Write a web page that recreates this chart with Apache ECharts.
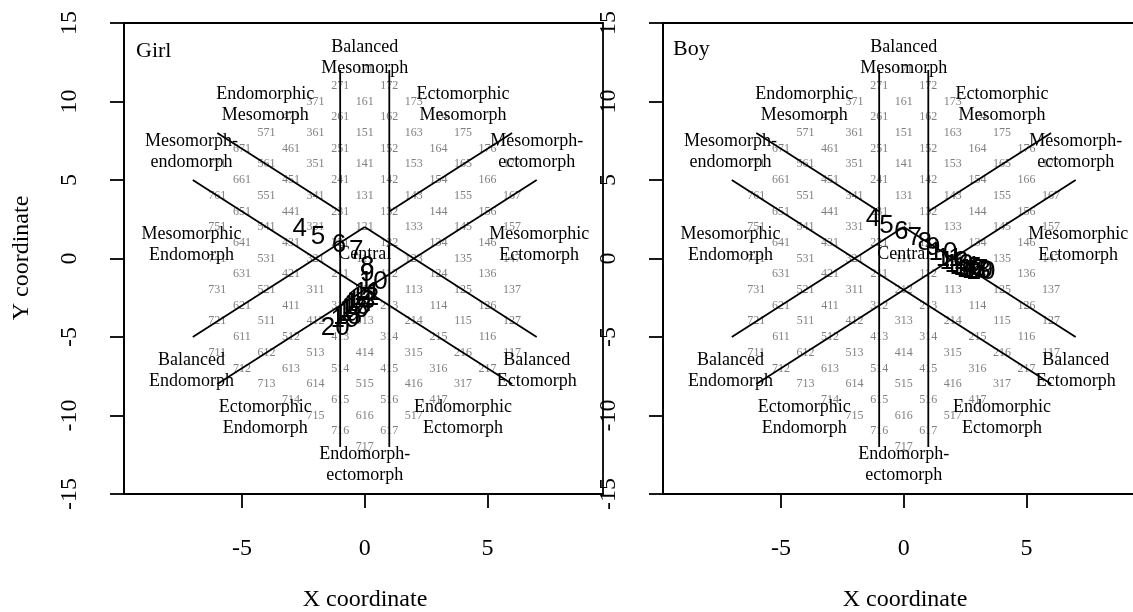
<!DOCTYPE html>
<html>
<head>
<meta charset="utf-8">
<script src="https://cdn.jsdelivr.net/npm/echarts@6/dist/echarts.min.js"></script>
<style>
html,body{margin:0;padding:0;background:#fff;overflow:hidden;}
#chart{width:1150px;height:612px;}
</style>
</head>
<body>
<div id="chart"></div>
<script>
// ---------- data ----------
const panelNames = ['Girl', 'Boy'];
const xTicks = [-5, 0, 5];
const yTicks = [-15, -10, -5, 0, 5, 10, 15];

// somatotype codes printed on the somatochart grid (endo, meso, ecto)
const somatoCodes = [
  '111','112','113','114','115','116','117',
  '121','122','123','124','125','126','127',
  '131','132','133','134','135','136','137',
  '141','142','143','144','145','146','147',
  '151','152','153','154','155','156','157',
  '161','162','163','164','165','166','167',
  '171','172','173','174','175','176','177',
  '211','212','213','214','215','216','217','221','231','241','251','261','271',
  '311','312','313','314','315','316','317','321','331','341','351','361','371',
  '411','412','413','414','415','416','417','421','431','441','451','461','471',
  '511','512','513','514','515','516','517','521','531','541','551','561','571',
  '611','612','613','614','615','616','617','621','631','641','651','661','671',
  '711','712','713','714','715','716','717','721','731','741','751','761','771'
];

// category names and their chart coordinates
const regionNames = [
  'Balanced\nMesomorph', 'Endomorphic\nMesomorph', 'Ectomorphic\nMesomorph',
  'Mesomorph-\nendomorph', 'Mesomorph-\nectomorph',
  'Mesomorphic\nEndomorph', 'Mesomorphic\nEctomorph', 'Central',
  'Balanced\nEndomorph', 'Balanced\nEctomorph',
  'Ectomorphic\nEndomorph', 'Endomorphic\nEctomorph', 'Endomorph-\nectomorph'
];
const regionX = [0, -4.05, 4.0, -7.05, 7.0, -7.05, 7.1, 0, -7.05, 7.0, -4.05, 4.0, 0];
const regionY = [12.8, 9.8, 9.8, 6.8, 6.8, 0.85, 0.85, 0.25, -7.15, -7.15, -10.15, -10.15, -13.15];

// boundary segments of the somatochart [x1, y1, x2, y2]
const boundarySegments = [
  [-1, -12, -1, 12],
  [1, -12, 1, 12],
  [-6, 8, -1, 3],
  [0, 2, 7, -5],
  [-7, -5, 0, 2],
  [1, 3, 6, 8],
  [-7, 5, 6, -8],
  [-6, -8, 7, 5]
];

// age labels and somatochart coordinates per panel
const ages = ['4','5','6','7','8','9','10','11','12','13','14','15','16','17','18','19','20'];
const girlX = [-2.65, -1.9, -1.05, -0.35, 0.1, 0.1, 0.35, 0.1, 0.0, -0.15, -0.25, -0.35, -0.45, -0.55, -0.7, -0.8, -1.2];
const girlY = [1.9, 1.35, 0.85, 0.5, -0.5, -1.0, -1.5, -2.2, -2.5, -2.7, -2.9, -3.1, -3.3, -3.5, -3.7, -3.9, -4.4];
const boyX = [-1.25, -0.7, -0.1, 0.45, 0.85, 1.2, 1.6, 1.85, 2.05, 2.25, 2.45, 2.6, 2.75, 2.85, 2.95, 3.05, 3.15];
const boyY = [2.5, 2.1, 1.7, 1.3, 1.0, 0.7, 0.35, 0.0, -0.2, -0.4, -0.5, -0.6, -0.7, -0.75, -0.8, -0.8, -0.85];

// ---------- chart ----------
const SERIF = 'Liberation Serif, Times New Roman, serif';
const SANS = 'Liberation Sans, Arial, sans-serif';
const chart = echarts.init(document.getElementById('chart'), null, {renderer: 'canvas'});

const grids = [
  {left: 124, top: 23, width: 479, height: 471},
  {left: 663, top: 23, width: 479, height: 471}
];

const xAxes = [], yAxes = [], series = [];
const ageData = [[girlX, girlY], [boyX, boyY]];
const hidden = {color: 'rgba(0,0,0,0)', opacity: 1};

for (let p = 0; p < 2; p++) {
  xAxes.push({
    type: 'value', gridIndex: p, min: -9.8, max: 9.7,
    axisLine: {show: true, onZero: false, lineStyle: {color: '#000', width: 1.8}},
    axisTick: {show: true, customValues: xTicks, length: 14, lineStyle: {color: '#000', width: 1.8}},
    axisLabel: {show: true, customValues: xTicks, margin: 43, fontSize: 24, fontFamily: SERIF, color: '#000',
      formatter: v => String(v)},
    splitLine: {show: false}
  });
  yAxes.push({
    type: 'value', gridIndex: p, min: -15, max: 15, interval: 5,
    axisLine: {show: true, onZero: false, lineStyle: {color: '#000', width: 1.8}},
    axisTick: {show: true, length: 14, lineStyle: {color: '#000', width: 1.8}},
    axisLabel: {show: true, rotate: 90, margin: 42, fontSize: 24, fontFamily: SERIF, color: '#000',
      formatter: v => String(v)},
    splitLine: {show: false}
  });

  // grey somatotype codes
  series.push({
    type: 'scatter', xAxisIndex: p, yAxisIndex: p, z: 1, silent: true,
    symbolSize: 1, itemStyle: hidden,
    data: somatoCodes.map(c => {
      const i = +c[0], j = +c[1], k = +c[2];
      return {name: c, value: [k - i, 2 * j - i - k]};
    }),
    label: {show: true, position: 'inside', formatter: '{b}', fontSize: 12, fontFamily: SERIF, color: '#808080'},
    labelLayout: {hideOverlap: false}
  });

  // boundary lines
  boundarySegments.forEach(s => {
    series.push({
      type: 'line', xAxisIndex: p, yAxisIndex: p, z: 2, silent: true,
      symbol: 'none', data: [[s[0], s[1]], [s[2], s[3]]],
      lineStyle: {color: '#000', width: 1.8}
    });
  });

  // category names
  series.push({
    type: 'scatter', xAxisIndex: p, yAxisIndex: p, z: 3, silent: true,
    symbolSize: 1, itemStyle: hidden,
    data: regionNames.map((n, i) => ({name: n, value: [regionX[i], regionY[i]]})),
    label: {show: true, position: 'inside', formatter: '{b}', fontSize: 18, lineHeight: 21,
      fontFamily: SERIF, color: '#000', align: 'center', verticalAlign: 'middle'}
  });

  // age numbers
  const ax = ageData[p][0], ay = ageData[p][1];
  series.push({
    type: 'scatter', xAxisIndex: p, yAxisIndex: p, z: 4, silent: true,
    symbolSize: 1, itemStyle: hidden,
    data: ages.map((a, i) => ({name: a, value: [ax[i], ay[i]]})),
    label: {show: true, position: 'inside', formatter: '{b}', fontSize: 26, fontFamily: SANS, color: '#000'}
  });
}

chart.setOption({
  animation: false,
  backgroundColor: '#fff',
  grid: grids.map(g => Object.assign({show: true, borderColor: '#000', borderWidth: 1.8, backgroundColor: 'transparent'}, g)),
  xAxis: xAxes,
  yAxis: yAxes,
  series: series,
  graphic: [
    {type: 'text', left: 136, top: 40, style: {text: panelNames[0], fontSize: 22, fontFamily: SERIF, fill: '#000'}},
    {type: 'text', left: 673, top: 38, style: {text: panelNames[1], fontSize: 22, fontFamily: SERIF, fill: '#000'}},
    {type: 'text', x: 365, y: 600, style: {text: 'X coordinate', fontSize: 24, fontFamily: SERIF, fill: '#000', align: 'center', verticalAlign: 'middle'}},
    {type: 'text', x: 905, y: 600, style: {text: 'X coordinate', fontSize: 24, fontFamily: SERIF, fill: '#000', align: 'center', verticalAlign: 'middle'}},
    {type: 'text', x: 22, y: 258, rotation: Math.PI / 2, style: {text: 'Y coordinate', fontSize: 24, fontFamily: SERIF, fill: '#000', align: 'center', verticalAlign: 'middle'}}
  ]
});
</script>
</body>
</html>
